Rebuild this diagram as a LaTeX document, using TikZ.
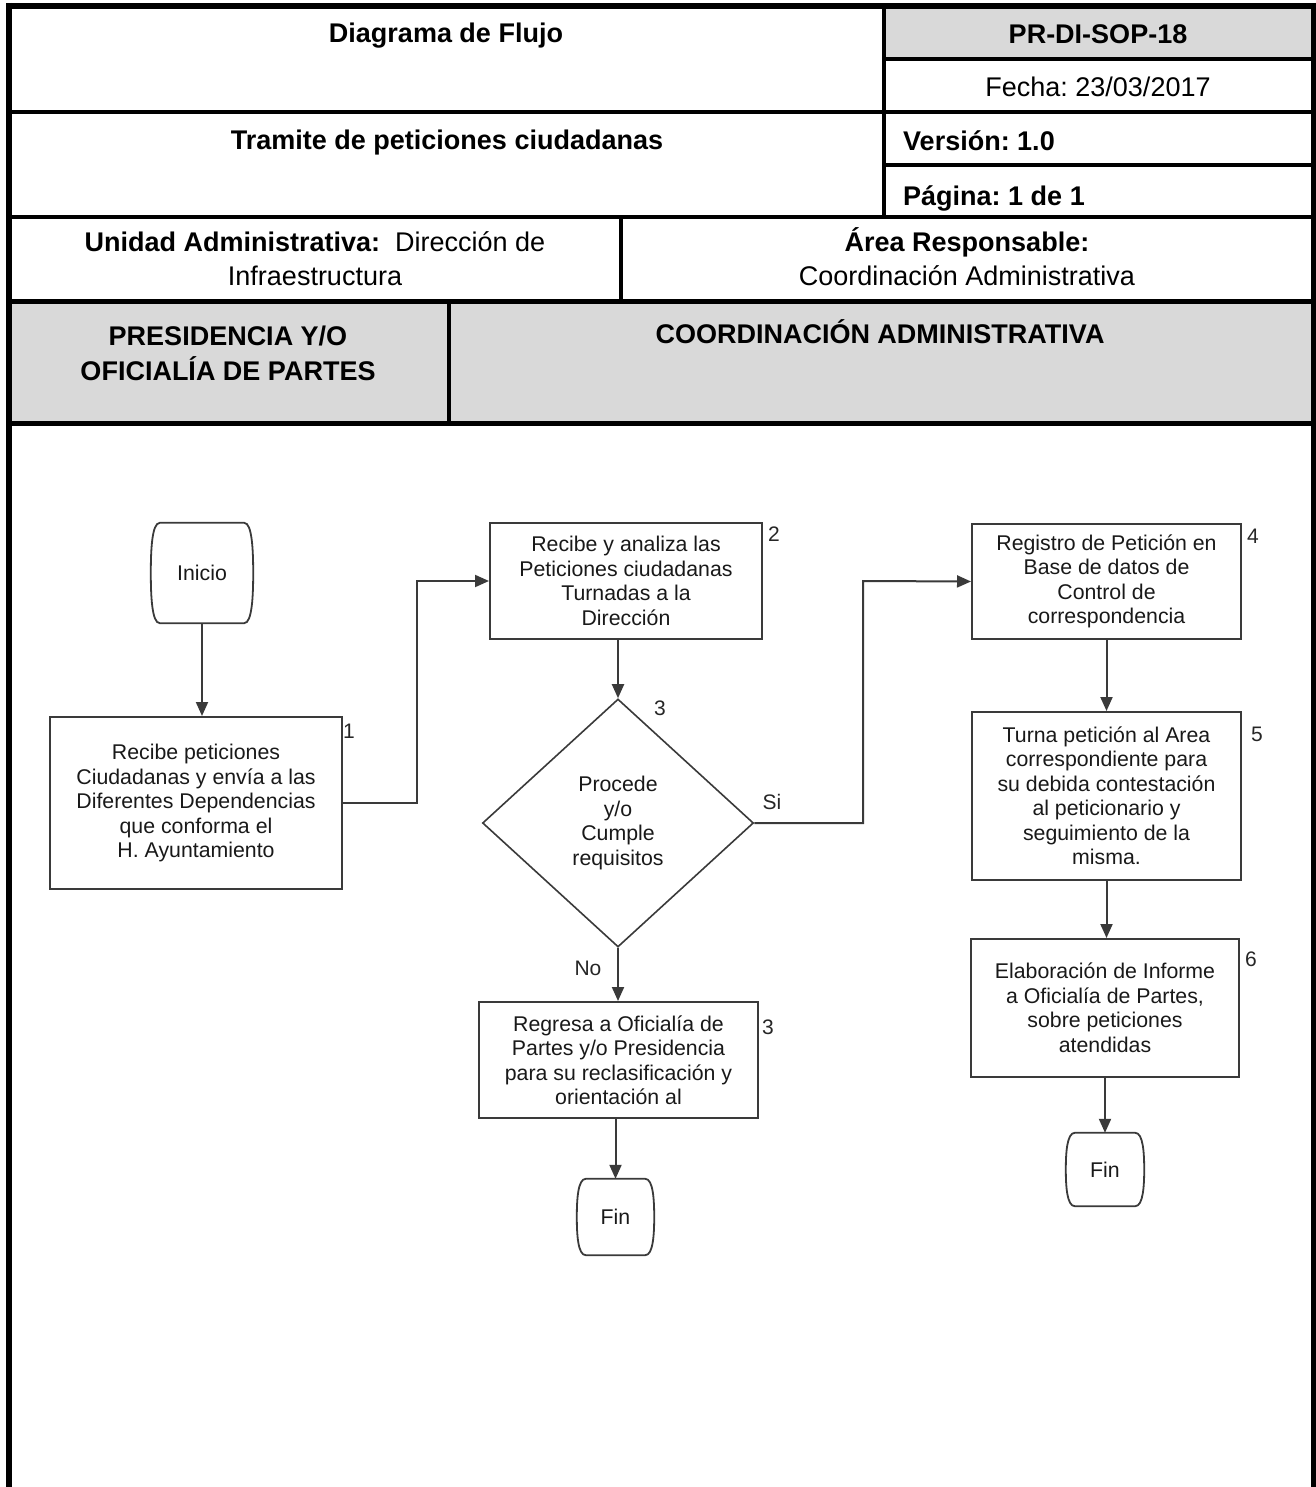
\documentclass[tikz,border=0pt]{standalone}
\usepackage{fontspec}
\setmainfont{Liberation Sans}
\usetikzlibrary{shapes.geometric,arrows.meta}
\definecolor{hdrgray}{HTML}{D9D9D9}
\definecolor{flowline}{HTML}{3A3A3A}
\frenchspacing
\newcommand{\termoutline}[2]{%
  \draw[termline] ([xshift=-9pt]#1.north east)
    .. controls ([xshift=-1pt]#1.north east) and ([yshift=#2pt]#1.east) .. (#1.east)
    .. controls ([yshift=-#2pt]#1.east) and ([xshift=-1pt]#1.south east) .. ([xshift=-9pt]#1.south east)
    -- ([xshift=9pt]#1.south west)
    .. controls ([xshift=1pt]#1.south west) and ([yshift=-#2pt]#1.west) .. (#1.west)
    .. controls ([yshift=#2pt]#1.west) and ([xshift=1pt]#1.north west) .. ([xshift=9pt]#1.north west)
    -- cycle;}
\begin{document}
\begin{tikzpicture}[x=1pt,y=-1pt,
  hdr/.style={font=\fontsize{27}{34}\selectfont, anchor=base, align=center, inner sep=0pt},
  hdrb/.style={hdr, font=\fontsize{27}{34}\selectfont\bfseries},
  tline/.style={line width=4pt, black},
  tthick/.style={line width=5pt, black},
  flowtext/.style={font=\fontsize{21.3}{24.5}\selectfont, align=center, text=black!90},
  procbox/.style={flowtext, shape=rectangle, draw=flowline, line width=2pt, fill=white, inner sep=0pt},
  decbox/.style={flowtext, shape=diamond, draw=flowline, line width=1.6pt, fill=white, inner sep=0pt},
  termbox/.style={flowtext, shape=rectangle, inner sep=0pt},
  termline/.style={draw=flowline, line width=1.8pt},
  numlbl/.style={font=\fontsize{21}{24}\selectfont, text=black!85, inner sep=0pt},
  arr/.style={draw=flowline, line width=2pt, -{Triangle[length=14pt,width=12pt]}},
  conn/.style={draw=flowline, line width=2pt}
]
\useasboundingbox (0,0) rectangle (1315,1487);

% ---------- header table ----------
\fill[hdrgray] (884,6) rectangle (1313,59);
\fill[hdrgray] (9,302) rectangle (1313,423);

\draw[tline] (9,112) -- (1313,112);
\draw[tline] (9,217) -- (1313,217);
\draw[tline] (884,59) -- (1313,59);
\draw[tline] (884,165) -- (1313,165);
\draw[tline] (884,6) -- (884,217);
\draw[tline] (621,217) -- (621,302);
\draw[tline] (449,302) -- (449,423);
\draw[tthick] (9,302) -- (1313,302);
\draw[tthick] (9,423) -- (1313,423);
\draw[line width=6pt] (6,6) -- (1315,6);
\draw[line width=6pt] (9,3) -- (9,1487);
\draw[line width=5pt] (1313,3) -- (1313,1487);

\node[hdrb] (tdiag) at (446,43) {Diagrama de Flujo};
\node[hdrb] (tcode) at (1098,44) {PR-DI-SOP-18};
\node[hdr]  (tfecha) at (1098,97) {Fecha: 23/03/2017};
\node[hdrb] (ttram) at (447,150) {Tramite de peticiones ciudadanas};
\node[hdrb, anchor=base west] (tver) at (903,151) {Versión: 1.0};
\node[hdrb, anchor=base west] (tpag) at (903,206) {Página: 1 de 1};
\node[hdr] (tunid) at (315,286) {\textbf{Unidad Administrativa:}~ Dirección de\\Infraestructura};
\node[hdr] (tarea) at (967,286) {\textbf{Área Responsable:}\\Coordinación Administrativa};
\node[hdrb, font=\fontsize{27}{35}\selectfont\bfseries] (tlane1) at (228,380) {PRESIDENCIA Y/O\\OFICIALÍA DE PARTES};
\node[hdrb] (tlane2) at (880,343) {COORDINACIÓN ADMINISTRATIVA};

% ---------- flowchart nodes ----------
\node[termbox, minimum width=102pt, minimum height=100pt] (ini) at (202,573) {Inicio};
\termoutline{ini}{22}

\node[procbox, minimum width=292pt, minimum height=172pt] (b1) at (196,803)
  {Recibe peticiones\\Ciudadanas y envía a las\\Diferentes Dependencias\\que conforma el\\H. Ayuntamiento};
\node[procbox, minimum width=272pt, minimum height=116pt] (b2) at (626,581)
  {Recibe y analiza las\\Peticiones ciudadanas\\Turnadas a la\\Dirección};
\node[decbox, minimum width=271pt, minimum height=248pt] (dia) at (618,823)
  {Procede\\y/o\\Cumple\\requisitos};
\node[procbox, minimum width=279pt, minimum height=116pt] (b3) at (618.5,1060)
  {Regresa a Oficialía de\\Partes y/o Presidencia\\para su reclasificación y\\orientación al};
\node[termbox, minimum width=77pt, minimum height=76pt] (fin1) at (615.5,1217) {Fin};
\termoutline{fin1}{17}

\node[procbox, minimum width=269pt, minimum height=115pt] (b4) at (1106.5,581.5)
  {Registro de Petición en\\Base de datos de\\Control de\\correspondencia};
\node[procbox, minimum width=269pt, minimum height=168pt] (b5) at (1106.5,796)
  {Turna petición al Area\\correspondiente para\\su debida contestación\\al peticionario y\\seguimiento de la\\misma.};
\node[procbox, minimum width=268pt, minimum height=138pt] (b6) at (1105,1008)
  {Elaboración de Informe\\a Oficialía de Partes,\\sobre peticiones\\atendidas};
\node[termbox, minimum width=78pt, minimum height=73pt] (fin2) at (1105,1169.5) {Fin};
\termoutline{fin2}{16}

% step numbers
\node[numlbl] (n1) at (349,731) {1};
\node[numlbl] (n2) at (774,534) {2};
\node[numlbl] (n3) at (660,708) {3};
\node[numlbl] (n3b) at (768,1027) {3};
\node[numlbl] (n4) at (1253,536) {4};
\node[numlbl] (n5) at (1257,734) {5};
\node[numlbl] (n6) at (1251,959) {6};

% ---------- connectors ----------
\coordinate (c1) at (417,581);
\coordinate (c2) at (863,581);

\draw[arr] (ini.south) -- (ini.south |- b1.north);
\draw[arr] (b1.east) -| (c1) -- (b2.west);
\draw[arr] (b2.south -| dia.north) -- (dia.north);
\draw[arr] (dia.east) -| (c2) -- (b4.west);
\draw[arr] (dia.south) -- (dia.south |- b3.north);
\draw[arr] (b3.south -| fin1.north) -- (fin1.north);
\draw[arr] (b4.south) -- (b5.north);
\draw[arr] (b5.south) -- (b5.south |- b6.north);
\draw[arr] (b6.south -| fin2.north) -- (fin2.north);

\node[numlbl] (lsi) at (772,802) {Si};
\node[numlbl] (lno) at (588,968) {No};
\end{tikzpicture}
\end{document}
